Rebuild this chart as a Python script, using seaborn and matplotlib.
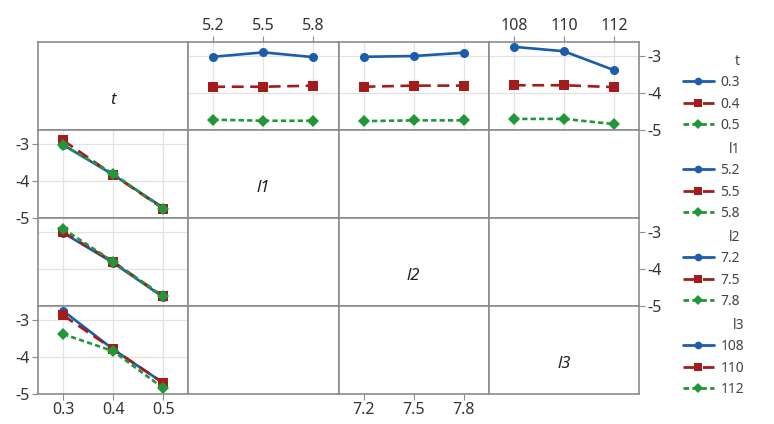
import matplotlib.pyplot as plt
import seaborn as sns
import pandas as pd
from matplotlib.lines import Line2D

# factor levels
t_levels = [0.3, 0.4, 0.5]
l1_levels = [5.2, 5.5, 5.8]
l2_levels = [7.2, 7.5, 7.8]
l3_levels = [108, 110, 112]

# mean response: one row per t level, one column per level of the other factor
t_l1 = [[-3.02, -2.90, -3.03],
        [-3.83, -3.83, -3.80],
        [-4.72, -4.75, -4.75]]
t_l2 = [[-3.02, -3.00, -2.91],
        [-3.83, -3.80, -3.80],
        [-4.76, -4.74, -4.74]]
t_l3 = [[-2.75, -2.87, -3.38],
        [-3.79, -3.79, -3.84],
        [-4.70, -4.70, -4.84]]

y_ticks = [-5, -4, -3]

sns.set_style('white')
plt.rcParams['font.family'] = ['Noto Sans', 'DejaVu Sans']
plt.rcParams['axes.unicode_minus'] = False

palette = ['#1b5cab', '#a31b1b', '#21973a']
markers = ['o', 's', 'D']
dashes = ['', (4.5, 2.5), (2, 1.2)]
edge = '#8c8c8c'


def long_df(levels, table, name):
    rows = []
    for i, tv in enumerate(t_levels):
        for j, v in enumerate(levels):
            rows.append({'t': tv, name: v, 'y': table[i][j]})
    df = pd.DataFrame(rows)
    df['t_lab'] = df['t'].astype(str)
    df[name + '_lab'] = df[name].astype(str)
    return df


names = ['t', 'l1', 'l2', 'l3']
levels = [t_levels, l1_levels, l2_levels, l3_levels]
tables = [None, t_l1, t_l2, t_l3]

fig, axes = plt.subplots(4, 4, figsize=(7.74, 4.24), dpi=100)
fig.subplots_adjust(left=38/774, right=639/774, bottom=30/424, top=382/424,
                    wspace=0, hspace=0)

for r in range(4):
    for c in range(4):
        ax = axes[r, c]
        ax.set_xticks(levels[c])
        ax.set_yticks(y_ticks)
        ax.tick_params(length=0, labelbottom=False, labelleft=False,
                       labelsize=11.5, labelcolor='#333333', color=edge, pad=2)
        for s in ax.spines.values():
            s.set_color(edge)
            s.set_linewidth(1.2)

# diagonal: factor names
for k, name in enumerate(names):
    axes[k, k].text(0.5, 0.34, name, transform=axes[k, k].transAxes,
                    ha='center', va='center', fontsize=12, style='italic',
                    color='#222222')

# interaction panels
for k in range(1, 4):
    name = names[k]
    df = long_df(levels[k], tables[k], name)
    kws = dict(palette=palette, markers=markers, dashes=dashes, linewidth=1.9,
               markersize=6.5, markeredgewidth=0, legend=False)

    top = axes[0, k]
    sns.lineplot(data=df, x=name, y='y', hue='t_lab', style='t_lab',
                 hue_order=[str(v) for v in t_levels],
                 style_order=[str(v) for v in t_levels], ax=top, **kws)

    left = axes[k, 0]
    labs = [str(v) for v in levels[k]]
    sns.lineplot(data=df, x='t', y='y', hue=name + '_lab', style=name + '_lab',
                 hue_order=labs, style_order=labs, ax=left, **kws)

    for ax in (top, left):
        ax.set_xlabel('')
        ax.set_ylabel('')
        ax.grid(True, color='#e3e3e3', linewidth=0.9)
        ax.set_axisbelow(True)

# limits: half a level step of margin on each side
for r in range(4):
    for c in range(4):
        step = levels[c][1] - levels[c][0]
        axes[r, c].set_xlim(levels[c][0] - step / 2, levels[c][-1] + step / 2)
        axes[r, c].set_ylim(-5, -2.62)

# alternating tick labels
for ax in (axes[0, 1], axes[0, 3]):
    ax.tick_params(axis='x', top=True, labeltop=True, length=4)
for ax in (axes[3, 0], axes[3, 2]):
    ax.tick_params(axis='x', bottom=True, labelbottom=True, length=4)
for ax in (axes[0, 3], axes[2, 3]):
    ax.tick_params(axis='y', right=True, labelright=True, length=4)
for ax in (axes[1, 0], axes[3, 0]):
    ax.tick_params(axis='y', left=True, labelleft=True, length=4)

# legends, one per factor
for g, name in enumerate(names):
    handles = []
    for i in range(3):
        if dashes[i]:
            h = Line2D([], [], color=palette[i], lw=2, dashes=dashes[i],
                       marker=markers[i], ms=5.5, mew=0)
        else:
            h = Line2D([], [], color=palette[i], lw=2,
                       marker=markers[i], ms=5.5, mew=0)
        handles.append(h)
    y_top = axes[g, 3].get_position().y1 - 12 / 424
    leg = fig.legend(handles, [str(v) for v in levels[g]], title=name,
                     loc='upper left', bbox_to_anchor=(683 / 774, y_top),
                     frameon=False, fontsize=10, title_fontsize=10,
                     handlelength=2.2, labelspacing=0.45, alignment='right',
                     borderpad=0, borderaxespad=0, handletextpad=0.5)
    for txt in leg.get_texts():
        txt.set_color('#444444')
    leg.get_title().set_color('#444444')

fig.savefig('out.png', dpi=100)
